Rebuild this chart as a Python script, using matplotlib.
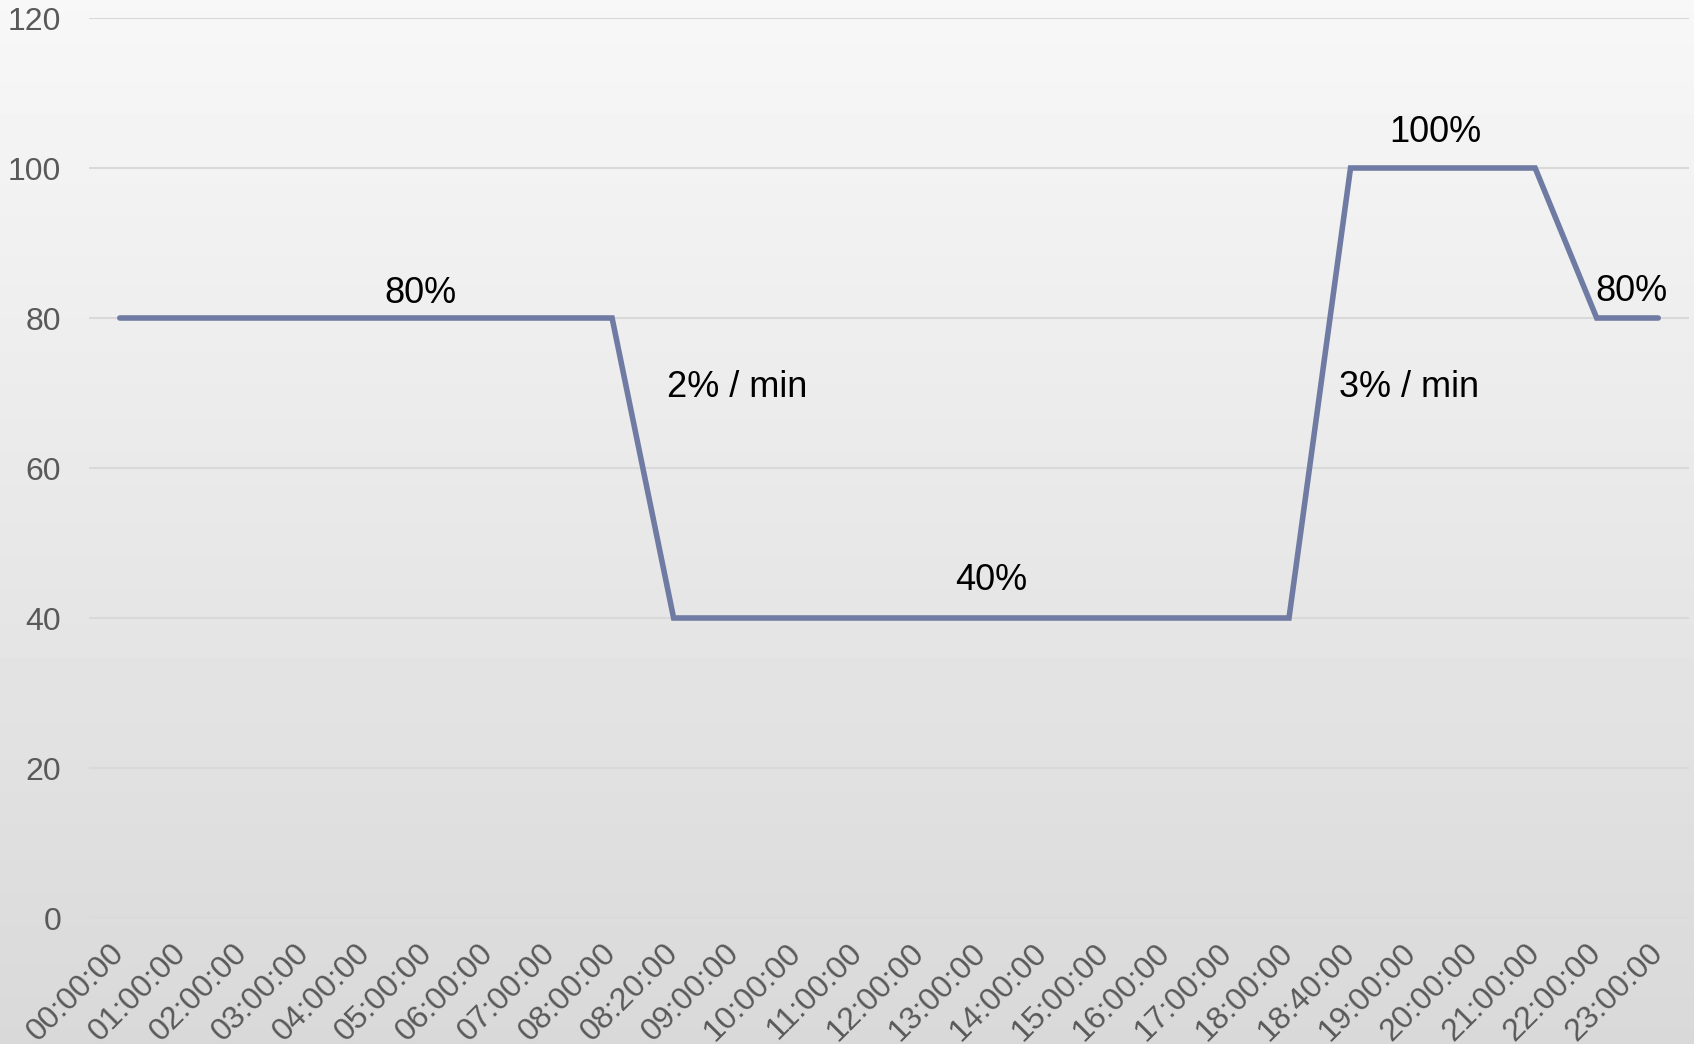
import matplotlib
matplotlib.use("Agg")
import matplotlib.pyplot as plt
import numpy as np

plt.rcParams['font.family'] = ['Liberation Sans', 'DejaVu Sans']

# Data
times = ['00:00:00', '01:00:00', '02:00:00', '03:00:00', '04:00:00', '05:00:00',
         '06:00:00', '07:00:00', '08:00:00', '08:20:00', '09:00:00', '10:00:00',
         '11:00:00', '12:00:00', '13:00:00', '14:00:00', '15:00:00', '16:00:00',
         '17:00:00', '18:00:00', '18:40:00', '19:00:00', '20:00:00', '21:00:00',
         '22:00:00', '23:00:00']
power = [80, 80, 80, 80, 80, 80, 80, 80, 80, 40, 40, 40, 40, 40, 40, 40, 40, 40,
         40, 40, 100, 100, 100, 100, 80, 80]

# annotation texts and their positions (category index, value)
notes = ['80%', '2% / min', '40%', '3% / min', '100%', '80%']
note_x = [4.88, 8.89, 14.16, 19.81, 21.37, 24.56]
note_y = [83.3, 70.7, 45.0, 70.7, 104.8, 83.5]
note_ha = ['center', 'left', 'center', 'left', 'center', 'center']

W, H = 1694, 1044
fig = plt.figure(figsize=(W / 100, H / 100), dpi=100)

# background gradient over the whole figure
bg = fig.add_axes([0, 0, 1, 1], zorder=0)
grad = np.linspace(0.97, 0.85, 256).reshape(-1, 1)
bg.imshow(grad, aspect='auto', cmap='gray', vmin=0, vmax=1,
          extent=[0, 1, 0, 1], origin='upper')
bg.axis('off')

ax = fig.add_axes([89 / W, 1 - 918 / H, 1600 / W, 900 / H], zorder=1)
ax.patch.set_alpha(0)

x = np.arange(len(times))
ax.plot(x, power, color='#6f7ba3', linewidth=4, solid_joinstyle='miter',
        solid_capstyle='round', zorder=3)

for t, tx, ty, ha in zip(notes, note_x, note_y, note_ha):
    ax.text(tx, ty, t, fontsize=26, color='black', ha=ha, va='center')

ax.set_xlim(-0.5, len(times) - 0.5)
ax.set_ylim(0, 120)
ax.set_yticks(np.arange(0, 121, 20))
ax.set_xticks(x)
ax.set_xticklabels(times, rotation=45, ha='right', va='center',
                   rotation_mode='anchor')
ax.tick_params(axis='x', length=0, pad=22, labelsize=23, labelcolor='#595959')
ax.tick_params(axis='y', length=0, pad=20, labelsize=23, labelcolor='#595959')

ax.grid(axis='y', color='#d9d9d9', linewidth=1.5)
ax.set_axisbelow(True)
for s in ax.spines.values():
    s.set_visible(False)

fig.savefig('out.png', dpi=100)
